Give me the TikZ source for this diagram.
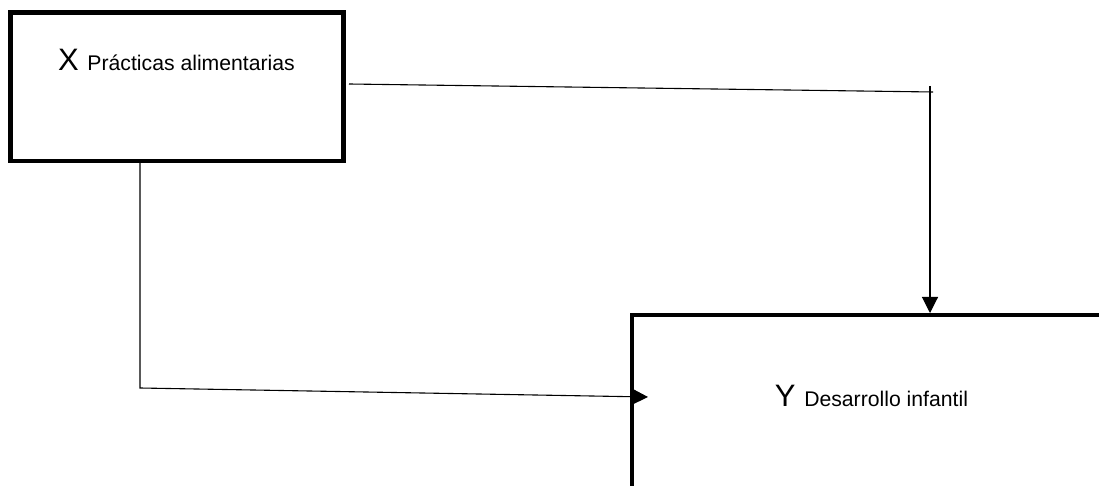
\documentclass[tikz,border=0pt]{standalone}
\usepackage{fontspec}
\setmainfont{Liberation Sans}
\usetikzlibrary{arrows.meta,positioning}
\tikzset{
    varbox/.style={draw, line width=2.2pt, rectangle, inner sep=0pt},
    big/.style={font=\fontsize{15.5}{18}\selectfont},
    conn/.style={line width=0.55pt},
    tip/.style={-{Triangle[length=8pt,width=8pt]}}
}
\newcommand{\sm}[1]{{\fontsize{10.6}{12}\selectfont #1}}

\begin{document}
\begin{tikzpicture}[x=0.5pt,y=-0.5pt]
        \useasboundingbox (0,0) rectangle (1099,486);
        \clip (0,0) rectangle (1099,486);

        % Draw the two variable boxes
        \node[varbox, minimum width=166.5pt, minimum height=74.25pt] (x) at (177,86.75) {};
        \node[varbox, minimum width=244pt, minimum height=97.5pt] (y) at (876,412.5) {};

        % the texts inside the boxes
        \node[big, anchor=base, inner sep=0pt] (xt) at (176.5,71) {X \sm{Prácticas alimentarias}};
        \node[big, anchor=base, inner sep=0pt] (yt) at (871.5,407) {Y \sm{Desarrollo infantil}};

        % corner points of the connectors
        \coordinate (xr) at (349,84);
        \coordinate (c1) at (933,92);
        \coordinate (c1t) at (930,86);
        \coordinate (ytop) at (930,313);
        \coordinate (xb) at (140,163);
        \coordinate (c2) at (140,388);
        \coordinate (yin) at (648,397);

        % Draw the connector over the top
        \draw[conn] (xr) -- (c1);
        \draw[conn,tip] (c1t) -- (ytop);

        % Draw the connector below
        \draw[conn,tip] (xb) -- (c2) -- (yin);
    \end{tikzpicture}
\end{document}
